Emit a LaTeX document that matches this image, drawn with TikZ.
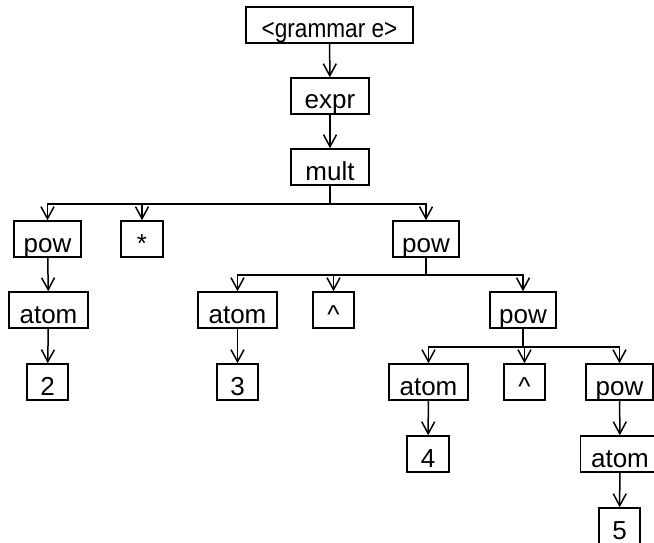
\documentclass[tikz,border=0pt]{standalone}
\usepackage{fontspec}
\setmainfont{Liberation Sans}
\usetikzlibrary{arrows.meta}
\begin{document}
\begin{tikzpicture}[x=1pt,y=-1pt,
  box/.style={draw,line width=1.5pt,inner xsep=0pt,inner ysep=0pt,
    text height=31pt,text depth=5pt,minimum height=36pt,
    font=\fontsize{26}{26}\selectfont},
  arr/.style={line width=1.5pt,-{Straight Barb[length=12pt,width=13pt,line width=1.5pt]}},
  ln/.style={line width=2pt}]
\useasboundingbox (0,0) rectangle (654,543);
\node[box,minimum width=167pt,font=\fontsize{26}{26}\selectfont\addfontfeatures{FakeStretch=0.87}] (g) at (329.5,25) {<grammar e>};
\node[box,minimum width=78pt] (expr) at (330,96) {expr};
\node[box,minimum width=78pt] (mult) at (330,167) {mult};
\node[box,minimum width=67pt] (pow1) at (47.5,239) {pow};
\node[box,minimum width=42pt] (star) at (142,239) {*};
\node[box,minimum width=66pt] (pow2) at (426,239) {pow};
\node[box,minimum width=79pt] (atom1) at (48.5,310) {atom};
\node[box,minimum width=41pt] (n2) at (47.5,382) {2};
\node[box,minimum width=79pt] (atom2) at (237.5,310) {atom};
\node[box,minimum width=41pt] (c1) at (333.5,310) {\^{}};
\node[box,minimum width=66pt] (pow3) at (523,310) {pow};
\node[box,minimum width=41pt] (n3) at (237.5,382) {3};
\node[box,minimum width=79pt] (atom3) at (428.5,382) {atom};
\node[box,minimum width=41pt] (c2) at (524.5,382) {\^{}};
\node[box,minimum width=67pt] (pow4) at (619.5,382) {pow};
\node[box,minimum width=42pt] (n4) at (428,454) {4};
\node[box,minimum width=79pt] (atom4) at (620,454) {atom};
\node[box,minimum width=41pt] (n5) at (619.5,526) {5};
% single edges
\draw[arr] (g) -- (expr);
\draw[arr] (expr) -- (mult);
\draw[arr] (pow1) -- (atom1);
\draw[arr] (atom1) -- (n2);
\draw[arr] (atom2) -- (n3);
\draw[arr] (atom3) -- (n4);
\draw[arr] (pow4) -- (atom4);
\draw[arr] (atom4) -- (n5);
% branching edges
\draw[ln] (mult.south) -- ++(0,18) coordinate (b1);
\draw[arr] (b1) -| (pow1.north);
\draw[arr] (b1) -| (star.north);
\draw[arr] (b1) -| (pow2.north);
\draw[ln] (pow2.south) -- ++(0,17) coordinate (b2);
\draw[arr] (b2) -| (atom2.north);
\draw[arr] (b2) -| (c1.north);
\draw[arr] (b2) -| (pow3.north);
\draw[ln] (pow3.south) -- ++(0,18) coordinate (b3);
\draw[arr] (b3) -| (atom3.north);
\draw[arr] (b3) -| (c2.north);
\draw[arr] (b3) -| (pow4.north);
\end{tikzpicture}
\end{document}
